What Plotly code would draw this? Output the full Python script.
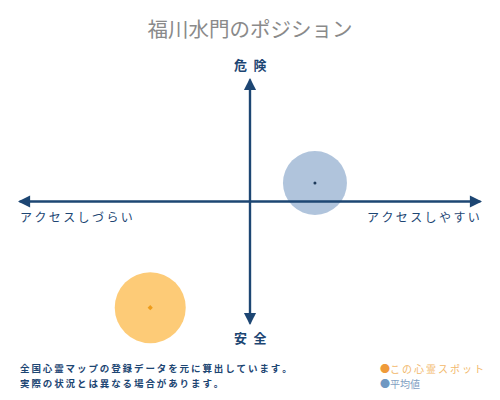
import plotly.graph_objects as go

# position on the two axes (-1..1): access (x), danger (y)
spot_name = 'この心霊スポット'
avg_name = '平均値'
spot_x = [-0.43]
spot_y = [-0.86]
avg_x = [0.28]
avg_y = [0.15]

title = '福川水門のポジション'
x_labels = ['アクセスしづらい', 'アクセスしやすい']
y_labels = ['危険', '安全']
notes = ['全国心霊マップの登録データを元に算出しています。', '実際の状況とは異なる場合があります。']

font = 'Noto Sans CJK JP'
navy = '#1d4673'


def spaced(s, sep='\u2009'):
    return sep.join(s)


fig = go.Figure()

# big translucent circles
fig.add_trace(go.Scatter(x=avg_x, y=avg_y, mode='markers', name=avg_name, cliponaxis=False,
                         marker=dict(size=64, color='rgba(150,176,208,0.75)', line=dict(width=0)),
                         hoverinfo='skip', showlegend=False))
fig.add_trace(go.Scatter(x=spot_x, y=spot_y, mode='markers', name=spot_name, cliponaxis=False,
                         marker=dict(size=71, color='rgba(253,200,112,0.95)', line=dict(width=0)),
                         hoverinfo='skip', showlegend=False))
# small centre dots
fig.add_trace(go.Scatter(x=avg_x, y=avg_y, mode='markers', cliponaxis=False,
                         marker=dict(size=3, color='#1d3a5a'), showlegend=False, hoverinfo='skip'))
fig.add_trace(go.Scatter(x=spot_x, y=spot_y, mode='markers', cliponaxis=False,
                         marker=dict(size=4, color='#ee9c1a', symbol='diamond'), showlegend=False, hoverinfo='skip'))

# axes drawn as double arrows
arrows = [(1, 0, -1, 0), (-1, 0, 1, 0), (0, 1, 0, -1), (0, -1, 0, 1)]
for x, y, ax, ay in arrows:
    fig.add_annotation(x=x, y=y, ax=ax, ay=ay, xref='x', yref='y', axref='x', ayref='y',
                       showarrow=True, arrowhead=2, arrowsize=1.1, arrowwidth=2.2,
                       arrowcolor=navy, text='')

fig.add_annotation(x=-1, y=0, text=spaced(x_labels[0]), xref='x', yref='y', showarrow=False,
                   xanchor='left', yanchor='top', yshift=-4,
                   font=dict(family=font, size=12, color=navy))
fig.add_annotation(x=1, y=0, text=spaced(x_labels[1]), xref='x', yref='y', showarrow=False,
                   xanchor='right', yanchor='top', yshift=-4,
                   font=dict(family=font, size=12, color=navy))
fig.add_annotation(x=0, y=1, text='<b>' + '\u2002'.join(y_labels[0]) + '</b>', xref='x', yref='y',
                   showarrow=False, yanchor='bottom', yshift=2,
                   font=dict(family=font, size=13, color=navy))
fig.add_annotation(x=0, y=-1, text='<b>' + '\u2002'.join(y_labels[1]) + '</b>', xref='x', yref='y',
                   showarrow=False, yanchor='top', yshift=-1,
                   font=dict(family=font, size=13, color=navy))

# footnote
fig.add_annotation(x=18, y=368, text='<b>' + spaced(notes[0]) + '</b>', xref='paper', yref='paper',
                   showarrow=False, xanchor='left', yanchor='middle',
                   font=dict(family=font, size=9.5, color=navy))
fig.add_annotation(x=18, y=383, text='<b>' + spaced(notes[1]) + '</b>', xref='paper', yref='paper',
                   showarrow=False, xanchor='left', yanchor='middle',
                   font=dict(family=font, size=9.5, color=navy))

# legend as text
fig.add_annotation(x=378, y=368,
                   text="<span style='color:#ef9b3a'>●</span><span style='color:#f2b86a'>" + spaced(spot_name) + '</span>',
                   xref='paper', yref='paper', showarrow=False, xanchor='left', yanchor='middle',
                   font=dict(family=font, size=10))
fig.add_annotation(x=378, y=383,
                   text="<span style='color:#6f98c2'>●</span><span style='color:#7f9fc2'>" + avg_name + '</span>',
                   xref='paper', yref='paper', showarrow=False, xanchor='left', yanchor='middle',
                   font=dict(family=font, size=10))

# paper coords above are pixel positions -> convert
W, H = 500, 400
ml, mr, mt, mb = 18, 18, 78, 75
pw, ph = W - ml - mr, H - mt - mb
for a in fig.layout.annotations:
    if a.xref == 'paper':
        a.x = (a.x - ml) / pw
        a.y = (H - mb - a.y) / ph

fig.update_layout(
    width=W, height=H,
    margin=dict(l=ml, r=mr, t=mt, b=mb),
    paper_bgcolor='white', plot_bgcolor='white',
    title=dict(text=title, x=0.5, y=0.925, xanchor='center', yanchor='middle',
               font=dict(family=font, size=20.5, color='#8a8a8a')),
    xaxis=dict(range=[-1, 1], visible=False, fixedrange=True),
    yaxis=dict(range=[-1, 1], visible=False, fixedrange=True),
    showlegend=False,
)

# page body has an 8px margin by default
fig.write_html("out.html", config={'displayModeBar': False},
               post_script="document.body.style.margin='0';")
